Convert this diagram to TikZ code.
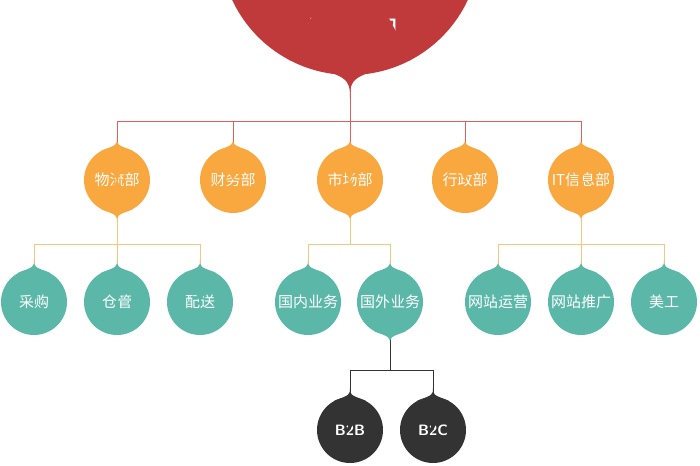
\documentclass[tikz,border=0pt]{standalone}
\usepackage{fontspec}
\newfontfamily\cjk{Noto Sans CJK SC}
\usetikzlibrary{calc,backgrounds}
\definecolor{cred}{HTML}{C0393B}
\definecolor{corg}{HTML}{F9A83F}
\definecolor{ctea}{HTML}{5BB8A9}
\definecolor{cblk}{HTML}{333333}
\definecolor{lred}{HTML}{D9605F}
\definecolor{lorg}{HTML}{F8C77E}
\newcommand{\tipup}[3]{\fill[#2] (#1.118) .. controls ($(#1.north)+(0,2pt)$) .. ($(#1.north)+(0,#3)$) .. controls ($(#1.north)+(0,2pt)$) .. (#1.62) -- (#1.center) -- cycle;}
\newcommand{\tipdn}[3]{\fill[#2] (#1.242) .. controls ($(#1.south)+(0,-2pt)$) .. ($(#1.south)+(0,-#3)$) .. controls ($(#1.south)+(0,-2pt)$) .. (#1.298) -- (#1.center) -- cycle;}
\tikzset{
 bub/.style={circle,minimum size=66pt,inner sep=0pt,text=white,font=\cjk\fontsize{15}{17}\selectfont},
 org/.style={bub,fill=corg},
 tea/.style={bub,fill=ctea},
 blk/.style={bub,fill=cblk,font=\sffamily\bfseries\fontsize{15}{17}\selectfont},
 ln/.style={line width=1pt}
}
\begin{document}
\begin{tikzpicture}[x=1pt,y=-1pt]
\useasboundingbox (0,0) rectangle (700,465);
\clip (0,0) rectangle (700,465);
\node[circle,fill=cred,minimum size=260pt,inner sep=0pt] (top) at (350,-55) {};
\node[text=white,font=\cjk\fontsize{32}{36}\selectfont] (ttl) at (350,32) {总经理};
\node[org] (o1) at (117,180) {物流部};
\node[org] (o2) at (233,180) {财务部};
\node[org] (o3) at (350,180) {市场部};
\node[org] (o4) at (465,180) {行政部};
\node[org] (o5) at (581,180) {IT信息部};
\node[tea] (t1) at (34,302) {采购};
\node[tea] (t2) at (117,302) {仓管};
\node[tea] (t3) at (200,302) {配送};
\node[tea] (t4) at (308,302) {国内业务};
\node[tea] (t5) at (390,302) {国外业务};
\node[tea] (t6) at (498,302) {网站运营};
\node[tea] (t7) at (581,302) {网站推广};
\node[tea] (t8) at (664,302) {美工};
\node[blk] (b1) at (350,430) {B2B};
\node[blk] (b2) at (433,430) {B2C};
\coordinate (y1) at (0,122);
\coordinate (y2) at (0,244);
\coordinate (y3) at (0,370);
\tipdn{top}{cred}{25pt}
\foreach \n in {o1,o2,o3,o4,o5}{\tipup{\n}{corg}{9pt}}
\foreach \n in {o1,o3,o5}{\tipdn{\n}{corg}{9pt}}
\foreach \n in {t1,t2,t3,t4,t5,t6,t7,t8}{\tipup{\n}{ctea}{9pt}}
\tipdn{t5}{ctea}{9pt}
\foreach \n in {b1,b2}{\tipup{\n}{cblk}{9pt}}
\begin{scope}[on background layer]
\draw[ln,lred] (top.south) -- (top.south|-y1);
\draw[ln,lred] (o1) -- (o1|-y1) -- (o5|-y1) -- (o5);
\foreach \n in {o2,o3,o4}{\draw[ln,lred] (\n) -- (\n|-y1);}
\draw[ln,lorg] (o1) -- (o1|-y2);
\draw[ln,lorg] (t1) -- (t1|-y2) -- (t3|-y2) -- (t3);
\draw[ln,lorg] (t2) -- (t2|-y2);
\draw[ln,lorg] (o3) -- (o3|-y2);
\draw[ln,lorg] (t4) -- (t4|-y2) -- (t5|-y2) -- (t5);
\draw[ln,lorg] (o5) -- (o5|-y2);
\draw[ln,lorg] (t6) -- (t6|-y2) -- (t8|-y2) -- (t8);
\draw[ln,lorg] (t7) -- (t7|-y2);
\draw[ln,cblk] (t5) -- (t5|-y3);
\draw[ln,cblk] (b1) -- (b1|-y3) -- (b2|-y3) -- (b2);
\end{scope}
\end{tikzpicture}
\end{document}
